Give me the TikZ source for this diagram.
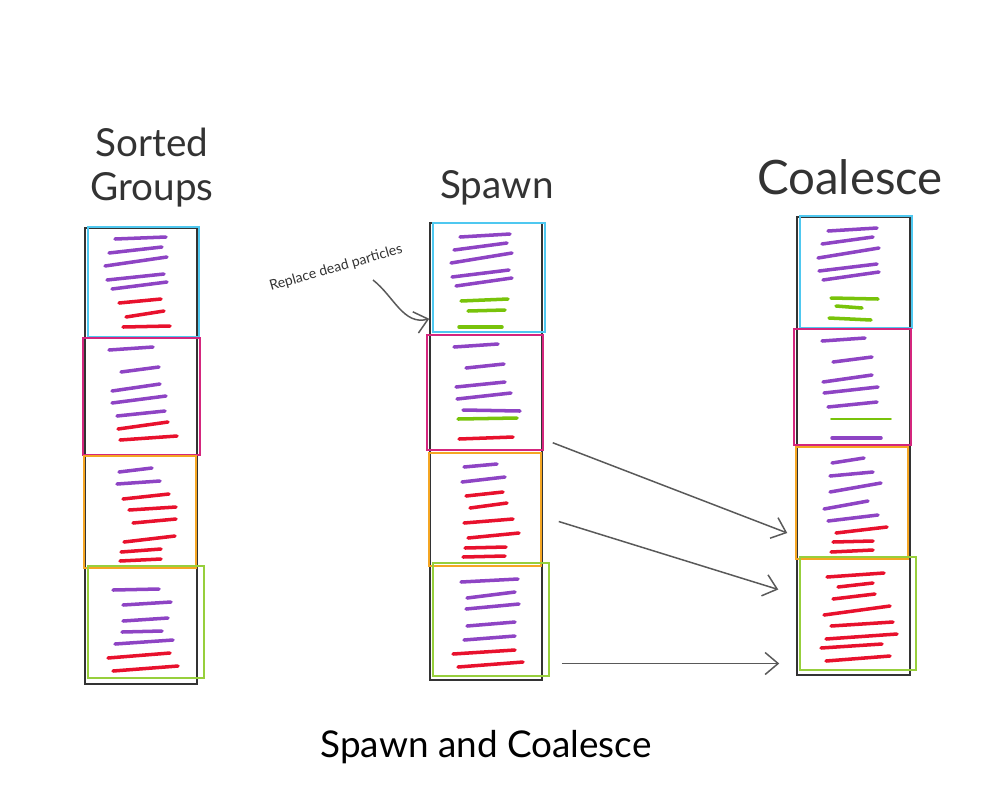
\documentclass[tikz,border=0pt]{standalone}
\usepackage{fontspec}
\setmainfont{Lato}
\usetikzlibrary{arrows.meta,fit,positioning}

\definecolor{partpurple}{HTML}{8E44C4}
\definecolor{partred}{HTML}{E8112D}
\definecolor{partgreen}{HTML}{78C30A}
\definecolor{boxblue}{HTML}{4FC8F0}
\definecolor{boxpink}{HTML}{D4267E}
\definecolor{boxorange}{HTML}{F5A623}
\definecolor{boxgreen}{HTML}{97CF3C}

\begin{document}
\begin{tikzpicture}[
    x=0.02cm, y=-0.02cm,
    column/.style={draw=black!80, line width=1.1pt, inner sep=0pt},
    group/.style={draw=#1, line width=0.85pt, inner sep=0pt},
    particle/.style={draw=#1, line width=2pt, line cap=round},
    flow/.style={draw=black!65, line width=0.85pt,
        -{Straight Barb[length=2.6mm, width=4.4mm, line width=0.85pt]}},
    title/.style={font=\fontsize{22}{27}\selectfont, align=center, text=black!80},
    every node/.style={font=\small}
]
    \useasboundingbox (0,0) rectangle (993,795);

    % columns
    \node[column, fit={(85,228)(197,684)}] (sorted-col) {};
    \node[column, fit={(430,223)(542,680)}] (spawn-col) {};
    \node[column, fit={(797,217)(910,675)}] (coalesce-col) {};

    % groups, sorted
    \node[group=boxblue, fit={(88,227)(199,337)}] (so-blue) {};
    \node[group=boxpink, fit={(83,338)(200,455)}] (so-pink) {};
    \node[group=boxorange, fit={(84,456)(196,568)}] (so-orange) {};
    \node[group=boxgreen, fit={(88,566)(204,678)}] (so-green) {};

    % groups, spawn
    \node[group=boxblue, fit={(433,223)(545,332)}] (sp-blue) {};
    \node[group=boxpink, fit={(427,335)(543,450)}] (sp-pink) {};
    \node[group=boxorange, fit={(429,453)(541,566)}] (sp-orange) {};
    \node[group=boxgreen, fit={(433,563)(549,676)}] (sp-green) {};

    % groups, coalesce
    \node[group=boxblue, fit={(800,216)(912,328)}] (co-blue) {};
    \node[group=boxpink, fit={(794,329)(911,445)}] (co-pink) {};
    \node[group=boxorange, fit={(796,447)(908,559)}] (co-orange) {};
    \node[group=boxgreen, fit={(800,557)(916,670)}] (co-green) {};

    % particles: colour / x1 / y1 / x2 / y2
    \foreach \c/\xa/\ya/\xb/\yb in {
        partpurple/115/239/166/237, partpurple/109/253/162/247,
        partpurple/105/266/167/257, partpurple/107/280/164/274,
        partpurple/112/289/167/282, partred/119/303/161/299,
        partred/126/317/164/311, partred/123/327/170/326,
        partpurple/109/350/153/347, partpurple/121/372/159/367,
        partpurple/112/391/160/384, partpurple/112/403/166/396,
        partpurple/117/416/165/411, partred/118/429/168/422,
        partred/120/440/177/436,
        partpurple/119/472/152/468, partpurple/117/484/160/481,
        partred/123/499/169/494, partred/129/510/176/507,
        partred/133/523/176/519, partred/124/542/175/536,
        partred/121/552/161/549, partred/120/561/161/559,
        partpurple/113/590/159/589, partpurple/123/605/171/602,
        partpurple/123/621/168/618, partpurple/122/632/162/631,
        partpurple/115/644/173/640, partred/108/658/170/653,
        partred/113/671/178/666}
        \draw[particle=\c] (\xa,\ya) -- (\xb,\yb);

    \foreach \c/\xa/\ya/\xb/\yb in {
        partpurple/460/237/510/234, partpurple/454/250/507/243,
        partpurple/451/263/512/253, partpurple/452/277/509/270,
        partpurple/456/286/512/278, partgreen/461/301/508/299,
        partgreen/468/311/505/310, partgreen/459/327/502/327,
        partpurple/454/347/498/344, partpurple/466/368/504/364,
        partpurple/456/387/505/382, partpurple/457/399/511/393,
        partpurple/463/410/520/411, partgreen/458/419/517/418,
        partred/459/439/513/437,
        partpurple/464/467/497/464, partpurple/462/482/505/477,
        partred/466/496/503/492, partred/470/508/507/503,
        partred/464/523/513/519, partred/468/538/519/533,
        partred/465/548/506/547, partred/463/557/505/556,
        partpurple/461/582/518/579, partpurple/467/598/515/592,
        partpurple/466/609/519/604, partpurple/467/626/515/622,
        partpurple/464/640/515/636, partred/453/654/515/650,
        partred/458/667/523/662}
        \draw[particle=\c] (\xa,\ya) -- (\xb,\yb);

    \foreach \c/\xa/\ya/\xb/\yb in {
        partpurple/828/231/877/228, partpurple/822/244/873/237,
        partpurple/818/258/879/248, partpurple/819/271/877/264,
        partpurple/823/280/879/272, partgreen/831/298/878/299,
        partgreen/836/306/862/308, partgreen/829/318/871/320,
        partpurple/822/341/865/338, partpurple/833/362/872/357,
        partpurple/823/382/872/375, partpurple/824/393/878/387,
        partpurple/828/407/877/402, partpurple/832/438/881/438,
        partpurple/832/463/864/458, partpurple/830/476/873/472,
        partpurple/830/492/881/483, partpurple/824/509/868/501,
        partpurple/828/521/878/515, partred/836/533/887/527,
        partred/833/542/873/541, partred/831/552/873/550,
        partred/827/577/884/573, partred/838/587/873/583,
        partred/833/599/875/594, partred/824/615/890/606,
        partred/831/626/893/622, partred/826/639/897/634,
        partred/821/648/882/644, partred/826/661/890/656}
        \draw[particle=\c] (\xa,\ya) -- (\xb,\yb);
    \draw[partgreen, line width=0.9pt, line cap=round] (831,419) -- (891,419);

    % titles
    \node[title] (sorted-title) at (152,168) {Sorted\\[-2pt]Groups};
    \node[title] (spawn-title) at (497,188) {Spawn};
    \node[title, font=\fontsize{27}{32}\selectfont] (coalesce-title) at (850,177) {Coalesce};
    \node[title, text=black, font=\fontsize{21}{25}\selectfont] (caption) at (486,747) {Spawn and Coalesce};

    % note
    \node[rotate=16, font=\fontsize{8}{10}\selectfont, text=black!80] (replace-note) at (336,268) {Replace dead particles};
    \draw[flow] ([shift={(37,12)}]replace-note.center) to[out=-38, in=195] ([shift={(-3,-14)}]sp-blue.south west);

    % moves
    \draw[flow] ([shift={(9,-8)}]sp-pink.south east) -- ([shift={(-8,30)}]co-orange.west);
    \draw[flow] ([shift={(17,12)}]sp-orange.east) -- ([shift={(-21,-24)}]co-green.west);
    \draw[flow] ([shift={(12,44)}]sp-green.east) -- ([shift={(-20,50)}]co-green.west);
\end{tikzpicture}
\end{document}
